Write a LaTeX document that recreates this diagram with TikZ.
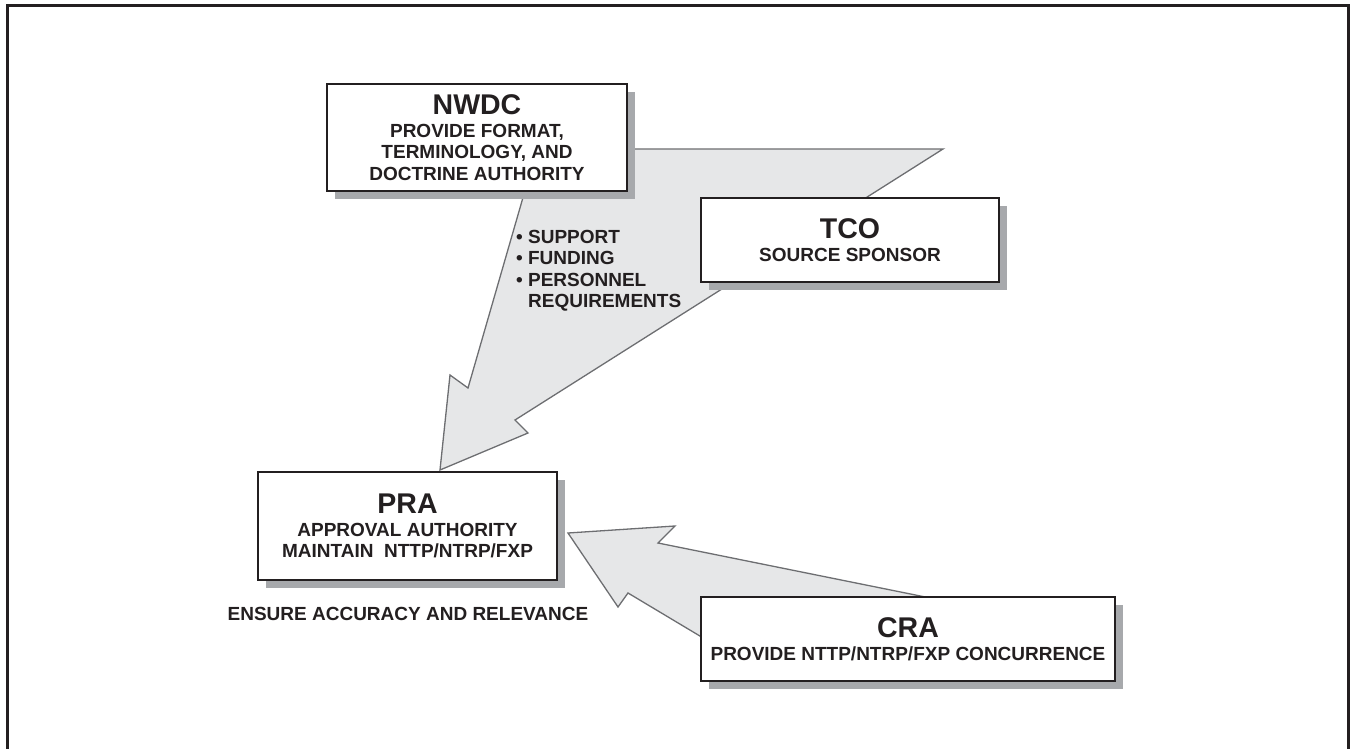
\documentclass[tikz,border=0pt]{standalone}
\usepackage{fontspec}
\setmainfont{Liberation Sans}
\usetikzlibrary{shadows}
\definecolor{ink}{HTML}{231F20}
\definecolor{shade}{HTML}{A7A9AC}
\definecolor{arrowfill}{HTML}{E6E7E8}
\definecolor{arrowline}{HTML}{6D6E71}
\tikzset{
  box/.style={draw=ink, line width=2.2pt, fill=white, inner sep=0pt, align=center, text=ink,
    font=\bfseries\fontsize{19}{21.5}\selectfont,
    drop shadow={shadow xshift=8pt, shadow yshift=-8pt, fill=shade, opacity=1}},
  blockarrow/.style={fill=arrowfill, draw=arrowline, line width=1.3pt, line join=miter},
  sub/.style={font=\bfseries\fontsize{19}{21.5}\selectfont, text=ink, inner sep=0pt},
}
\newcommand{\boxtitle}[1]{{\fontsize{28.5}{28}\selectfont #1}}
\begin{document}
\begin{tikzpicture}[x=1pt, y=-1pt]
\useasboundingbox (0,0) rectangle (1350,749);
% outer frame
\draw[ink, line width=3pt] (7.5,760) -- (7.5,5.5) -- (1348.5,5.5) -- (1348.5,760);
% big arrow NWDC/TCO -> PRA
\coordinate (tipA) at (440,470);
\draw[blockarrow] (tipA) -- (528,433) -- (515,420) -- (943,149) -- (537,149)
  -- (468,388) -- (450,375) -- cycle;
% arrow CRA -> PRA
\coordinate (tipB) at (568,533);
\draw[blockarrow] (tipB) -- (675,526) -- (658,543) -- (960,604) -- (740,660)
  -- (628,593) -- (618,607) -- cycle;
% boxes
\node[box, minimum width=300pt, minimum height=107pt] (nwdc) at (477,137.5)
  {\boxtitle{NWDC}\\[1pt] PROVIDE FORMAT,\\ TERMINOLOGY, AND\\ DOCTRINE AUTHORITY};
\node[box, minimum width=298pt, minimum height=84pt] (tco) at (850,240)
  {\boxtitle{TCO}\\[2pt] SOURCE SPONSOR};
\node[box, minimum width=299pt, minimum height=108pt] (pra) at (407.5,526)
  {\boxtitle{PRA}\\[1pt] APPROVAL AUTHORITY\\ MAINTAIN\ \ NTTP/NTRP/FXP};
\node[box, minimum width=414pt, minimum height=84pt] (cra) at (908,639)
  {\boxtitle{CRA}\\[2pt] PROVIDE NTTP/NTRP/FXP CONCURRENCE};
% labels
\node[sub, anchor=north west, align=left] (list) at (516,230)
  {\textbullet\ SUPPORT\\ \textbullet\ FUNDING\\ \textbullet\ PERSONNEL\\ \phantom{\textbullet\ }REQUIREMENTS};
\node[sub, anchor=base] (ensure) at (408,620) {ENSURE ACCURACY AND RELEVANCE};
\end{tikzpicture}
\end{document}
